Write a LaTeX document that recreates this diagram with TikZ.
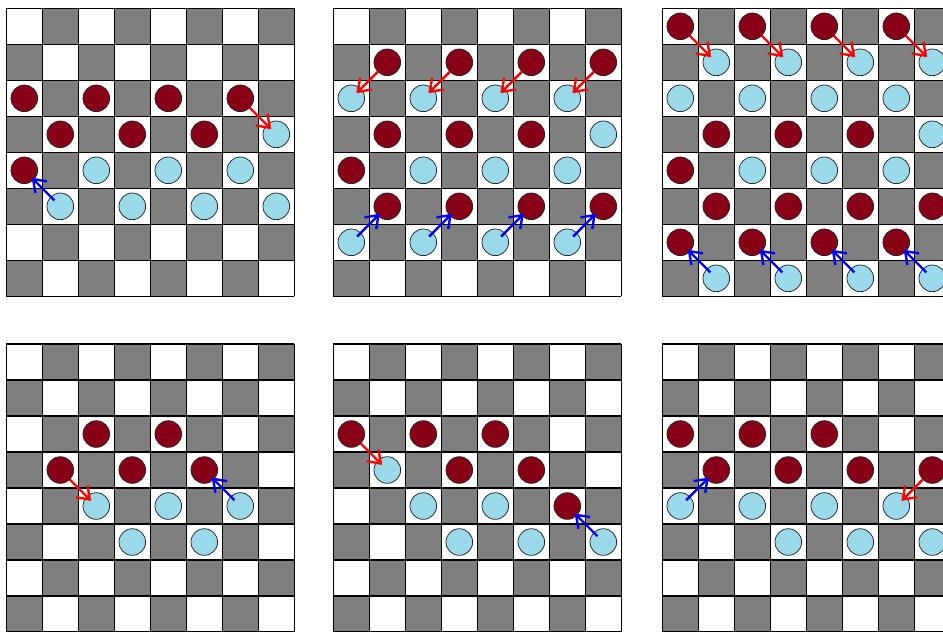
\documentclass[tikz,border=0pt]{standalone}
\usetikzlibrary{arrows.meta}
\definecolor{sqdark}{HTML}{7F7F7F}
\definecolor{redpc}{HTML}{880015}
\definecolor{bluepc}{HTML}{99D9EA}
\tikzset{
  darksq/.style={fill=sqdark},
  gridline/.style={draw=black, line width=1pt},
  piece/.style={circle, draw=black!85, line width=0.6pt, minimum size=0.74cm, inner sep=0pt},
  redpiece/.style={piece, fill=redpc},
  bluepiece/.style={piece, fill=bluepc},
  movearrow/.style={line width=1.9pt, -{Straight Barb[length=9pt,width=13pt,line width=1.9pt]}},
  redmove/.style={movearrow, draw=red, shorten <=0.37cm, shorten >=0.2cm},
  bluemove/.style={movearrow, draw=blue, shorten <=0.23cm, shorten >=0.29cm},
}
% #1 board name, #2 origin, #3 red pieces r/c, #4 blue pieces r/c, #5 red moves, #6 blue moves
\newcommand\checkerboard[6]{%
  \begin{scope}[shift={#2}]
    \foreach \r in {0,...,7}{
      \foreach \c in {0,...,7}{
        \pgfmathtruncatemacro\pp{mod(\r+\c,2)}
        \ifnum\pp=1 \fill[darksq] (\c,-\r) rectangle ++(1,-1);\fi
      }
    }
    \draw[gridline] (0,-8) grid (8,0);
    \foreach \r/\c in {#3} \node[redpiece] (#1-\r-\c) at (\c+0.5,-\r-0.5) {};
    \foreach \r/\c in {#4} \node[bluepiece] (#1-\r-\c) at (\c+0.5,-\r-0.5) {};
    \foreach \a/\b in {#5} \draw[redmove] (#1-\a.center) -- (#1-\b.center);
    \foreach \a/\b in {#6} \draw[bluemove] (#1-\a.center) -- (#1-\b.center);
  \end{scope}%
}
\begin{document}
\begin{tikzpicture}
\useasboundingbox (0,0) rectangle (26.194,-17.528);
\clip (0,0) rectangle (26.194,-17.528);
% board 1
\checkerboard{A}{(0.175,-0.2306)}
  {2/0,2/2,2/4,2/6,3/1,3/3,3/5,4/0}
  {3/7,4/2,4/4,4/6,5/1,5/3,5/5,5/7}
  {2-6/3-7}
  {5-1/4-0}
% board 2
\checkerboard{B}{(9.258,-0.2306)}
  {1/1,1/3,1/5,1/7,3/1,3/3,3/5,4/0,5/1,5/3,5/5,5/7}
  {2/0,2/2,2/4,2/6,3/7,4/2,4/4,4/6,6/0,6/2,6/4,6/6}
  {1-1/2-0,1-3/2-2,1-5/2-4,1-7/2-6}
  {6-0/5-1,6-2/5-3,6-4/5-5,6-6/5-7}
% board 3
\checkerboard{C}{(18.397,-0.2306)}
  {0/0,0/2,0/4,0/6,3/1,3/3,3/5,4/0,5/1,5/3,5/5,5/7,6/0,6/2,6/4,6/6}
  {1/1,1/3,1/5,1/7,2/0,2/2,2/4,2/6,3/7,4/2,4/4,4/6,7/1,7/3,7/5,7/7}
  {0-0/1-1,0-2/1-3,0-4/1-5,0-6/1-7}
  {7-1/6-0,7-3/6-2,7-5/6-4,7-7/6-6}
% board 4
\checkerboard{D}{(0.175,-9.556)}
  {2/2,2/4,3/1,3/3,3/5}
  {4/2,4/4,4/6,5/3,5/5}
  {3-1/4-2}
  {4-6/3-5}
% board 5
\checkerboard{E}{(9.258,-9.556)}
  {2/0,2/2,2/4,3/3,3/5,4/6}
  {3/1,4/2,4/4,5/3,5/5,5/7}
  {2-0/3-1}
  {5-7/4-6}
% board 6
\checkerboard{F}{(18.397,-9.556)}
  {2/0,2/2,2/4,3/1,3/3,3/5,3/7}
  {4/0,4/2,4/4,4/6,5/3,5/5,5/7}
  {3-7/4-6}
  {4-0/3-1}
\end{tikzpicture}
\end{document}
